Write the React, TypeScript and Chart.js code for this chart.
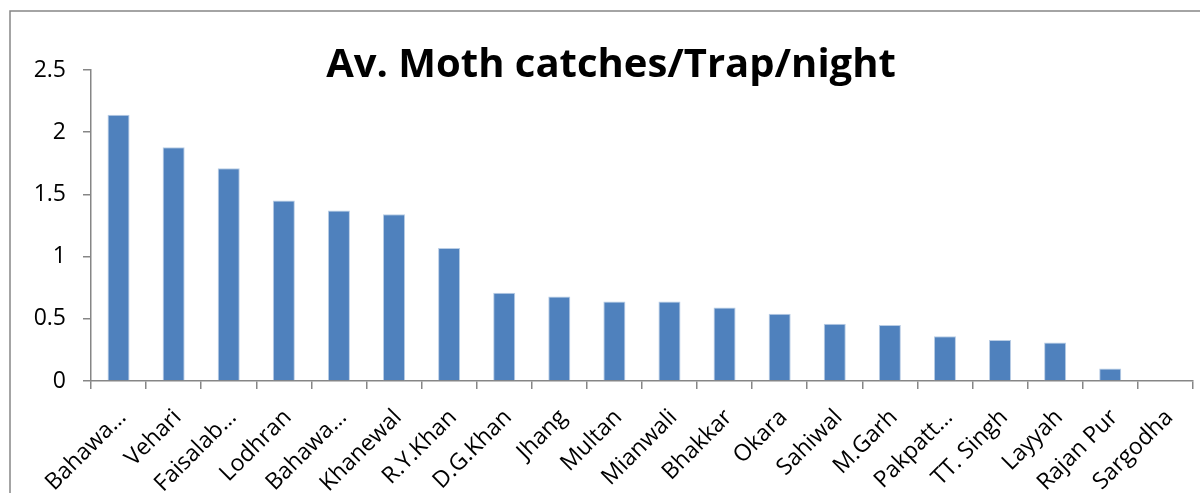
import React, { useEffect, useRef } from "react";
import { Chart, registerables } from "chart.js";

Chart.register(...registerables);

const categories = [
  "Bahawa…", "Vehari", "Faisalab…", "Lodhran", "Bahawa…", "Khanewal", "R.Y.Khan",
  "D.G.Khan", "Jhang", "Multan", "Mianwali", "Bhakkar", "Okara", "Sahiwal",
  "M.Garh", "Pakpatt…", "TT. Singh", "Layyah", "Rajan Pur", "Sargodha",
];
const values = [
  2.14, 1.88, 1.71, 1.45, 1.37, 1.34, 1.07, 0.71, 0.68, 0.64, 0.64, 0.59,
  0.54, 0.46, 0.45, 0.36, 0.33, 0.31, 0.1, 0,
];
const yTicks = [0, 0.5, 1, 1.5, 2, 2.5];
const titleText = "Av. Moth catches/Trap/night";

const FONT = "'Open Sans', Lato, sans-serif";
const AXIS_GRAY = "#868686";

const decorPlugin = {
  id: "decor",
  afterDraw(chart: any) {
    const ctx = chart.ctx;
    ctx.save();
    ctx.strokeStyle = AXIS_GRAY;
    ctx.lineWidth = 1.5;
    ctx.strokeRect(10, 11, 1240, 540);
    ctx.fillStyle = "#000";
    ctx.font = `bold 40px ${FONT}`;
    ctx.textAlign = "center";
    ctx.textBaseline = "alphabetic";
    ctx.fillText(titleText, 611, 77);
    ctx.restore();
  },
};

export default function App() {
  const ref = useRef<HTMLCanvasElement>(null);
  useEffect(() => {
    document.body.style.margin = "0";
    const chart = new Chart(ref.current!, {
      type: "bar",
      data: {
        labels: categories,
        datasets: [
          {
            data: values,
            backgroundColor: "#4F81BD",
            borderColor: "#B9CDE5",
            borderWidth: { top: 1, left: 1, right: 1, bottom: 0 },
            categoryPercentage: 1,
            barPercentage: 0.4,
          },
        ],
      },
      options: {
        animation: false,
        responsive: false,
        maintainAspectRatio: false,
        layout: { padding: { left: 0, right: 7, top: 70, bottom: 0 } },
        plugins: { legend: { display: false }, title: { display: false }, tooltip: { enabled: false } },
        scales: {
          y: {
            min: 0,
            max: 2.5,
            afterBuildTicks: (s: any) => {
              s.ticks = yTicks.map((v) => ({ value: v }));
            },
            afterFit: (s: any) => {
              s.width = 91;
            },
            border: { display: true, color: AXIS_GRAY, width: 1.5 },
            grid: { display: true, drawOnChartArea: false, drawTicks: true, tickLength: 8, color: AXIS_GRAY, lineWidth: 1.5 },
            ticks: {
              color: "#000",
              font: { family: FONT, size: 23 },
              padding: 17,
              callback: (v: any) => String(v),
            },
          },
          x: {
            afterFit: (s: any) => {
              s.height = 112;
            },
            border: { display: true, color: AXIS_GRAY, width: 1.5 },
            grid: { display: true, offset: true, drawOnChartArea: false, drawTicks: true, tickLength: 8, color: AXIS_GRAY, lineWidth: 1.5 },
            ticks: {
              color: "#000",
              font: { family: FONT, size: 23 },
              maxRotation: 45,
              minRotation: 45,
              autoSkip: false,
              padding: 15,
              labelOffset: 4,
            },
          },
        },
      },
      plugins: [decorPlugin],
    });
    return () => chart.destroy();
  }, []);
  return (
    <div style={{ position: "absolute", left: 0, top: 0, width: 1200, height: 493, background: "#fff" }}>
      <canvas ref={ref} width={1200} height={493} />
    </div>
  );
}
